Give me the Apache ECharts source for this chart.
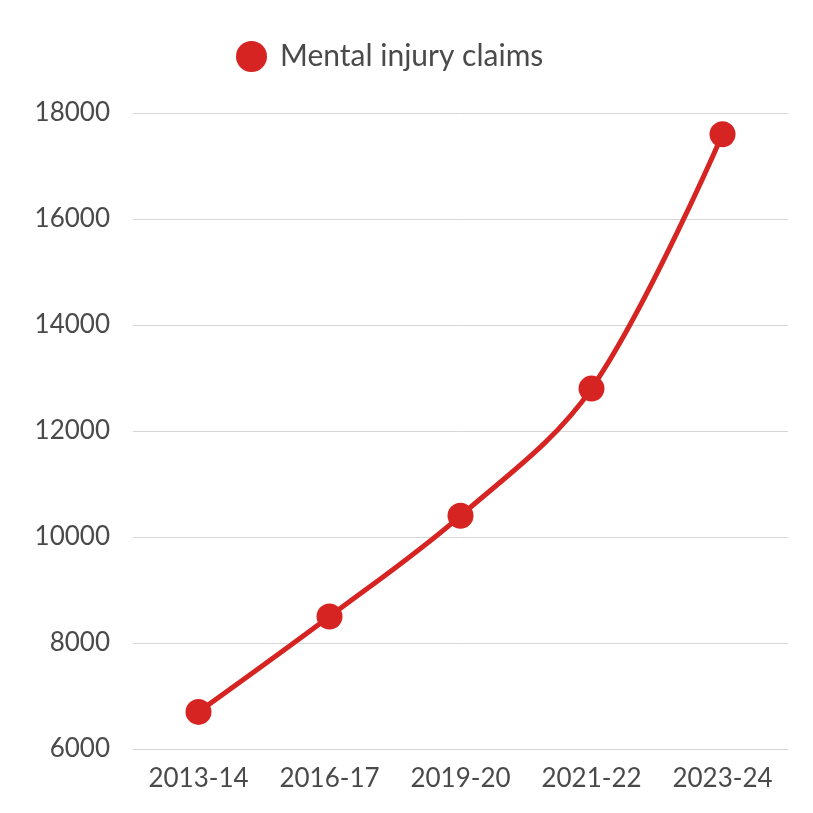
<!DOCTYPE html>
<html>
<head>
<meta charset="utf-8">
<script src="https://cdn.jsdelivr.net/npm/echarts@6/dist/echarts.min.js"></script>
<style>
  html, body { margin: 0; padding: 0; background: #fff; }
  #myChart { width: 813px; height: 813px; }
</style>
</head>
<body>
<div id="myChart"></div>
<script>
// 数据
var years = ['2013-14', '2016-17', '2019-20', '2021-22', '2023-24'];
var claims = [6700, 8500, 10400, 12800, 17600];
var seriesName = 'Mental injury claims';

var red = '#d62422';
var textColor = '#4a4a4a';
var font = 'Lato';

var option = {
  animation: false,
  legend: {
    left: 231,
    top: 36,
    icon: 'circle',
    itemWidth: 31,
    itemHeight: 31,
    itemGap: 10,
    textStyle: { color: textColor, fontSize: 30, fontFamily: font, padding: [0, 0, 0, 8] },
    data: [seriesName]
  },
  grid: { left: 133, right: 25, top: 113, bottom: 64 },
  xAxis: {
    type: 'category',
    data: years,
    boundaryGap: true,
    axisLine: { show: true, lineStyle: { color: '#d6d6d6', width: 1 } },
    axisTick: { show: false },
    axisLabel: { color: textColor, fontSize: 26, fontFamily: font, margin: 17 }
  },
  yAxis: {
    type: 'value',
    min: 6000,
    max: 18000,
    interval: 2000,
    axisLine: { show: false },
    axisTick: { show: false },
    splitLine: { lineStyle: { color: '#d6d6d6', width: 1 } },
    axisLabel: {
      color: textColor, fontSize: 26, fontFamily: font, margin: 23,
      formatter: function (v) { return String(v); }
    }
  },
  series: [{
    name: seriesName,
    type: 'line',
    data: claims,
    smooth: 0.35,
    symbol: 'circle',
    symbolSize: 26,
    itemStyle: { color: red },
    lineStyle: { color: red, width: 5 }
  }]
};

var myChart = echarts.init(document.getElementById('myChart'));
myChart.setOption(option);
</script>
</body>
</html>
